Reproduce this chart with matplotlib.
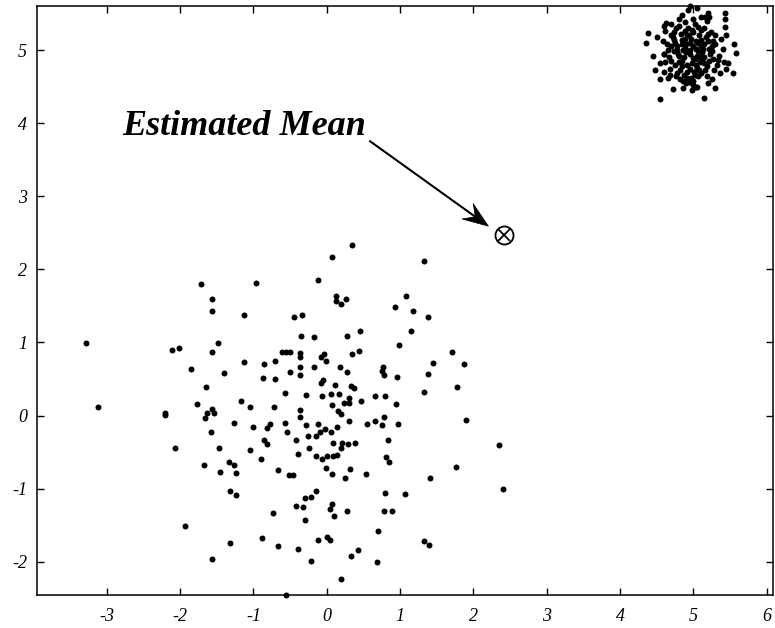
import numpy as np
import matplotlib
matplotlib.use("Agg")
from matplotlib import pyplot as plt
from matplotlib.patches import Polygon

plt.rcParams['axes.unicode_minus'] = False

# amostras do grupo 1 (perto da origem)
x1 = [-1.71, -1.57, -1.57, -3.29, -2.11, -2.02, -1.49, -1.57,
      0.34, 0.07, -0.12, -0.97, 0.12, 0.12, 0.20, 0.26, -1.13, -0.44, -0.34, -0.35, -0.17, 0.27, 0.46,
      1.33, 1.08, 0.93, 1.17, 1.38, 1.15, 0.99, 1.71,
      -1.85, -1.40, -1.65, -3.12, -1.77, -2.20, -2.21, -1.56, -1.54, -1.64, -1.66, -1.58, -2.07, -1.47, -1.67, -1.46,
      -0.61, -0.56, -0.50, -0.36, -0.36, -0.04, -0.08, -0.01, 0.34, 0.44,
      -1.13, -0.86, -0.70, -0.50, -0.37, -0.37, -0.18, 0.18, 0.27, -0.87,
      -0.71, -0.05, -0.08, 0.11, 0.33, 0.37, -0.57, -0.28, -0.06, 0.06,
      0.17, -1.17, 0.31, 0.47, -1.05, -0.72, 0.07, 0.23, 0.30, -0.36,
      0.16, 0.19, -0.37, -1.27, -0.78, -0.82, -1.00, -0.57, -0.28, -0.12,
      0.31, 0.55, -0.54, -0.02, -0.09, -0.15, 0.06, 0.14, -0.86, -0.81,
      -0.42, -0.26, 0.08, 0.21, 0.19, 0.29, 0.39, -1.05, -0.24, -0.39,
      -0.14, -0.07, 0.00, 0.09, 0.14, -0.90, -1.33, -1.27, -0.01, 0.32,
      -0.67, -1.24, -0.51, -0.46, 0.07, 0.54, 0.25,
      1.45, 1.87, 0.77, 0.76, 0.78, 0.96, 1.38, 1.77, 1.32, 0.66, 0.80, 0.94,
      0.78, 0.66, 0.76, 0.97, 1.90, 0.83, 2.35, 0.81, 0.85, 1.76, 1.41,
      -1.93, -1.56,
      -1.32, -1.24, -0.15, -0.22, -0.30, -0.42, -0.33, 0.07, 0.05, 0.10, 0.27, -0.73, -0.30,
      -1.32, -0.89, -0.66, -0.39, -0.12, 0.01, 0.05, -0.21, 0.33, 0.42, 0.19, -0.56,
      0.80, 1.07, 2.40, 0.78, 0.89, 0.70, 1.32, 1.39, 0.68]
y1 = [1.80, 1.59, 1.43, 0.99, 0.90, 0.93, 0.99, 0.87,
      2.33, 2.17, 1.86, 1.81, 1.63, 1.57, 1.52, 1.60, 1.38, 1.35, 1.37, 1.09, 1.08, 1.09, 1.15,
      2.12, 1.63, 1.48, 1.43, 1.35, 1.15, 0.97, 0.87,
      0.64, 0.58, 0.39, 0.12, 0.16, 0.03, 0.01, 0.09, 0.04, 0.03, -0.03, -0.22, -0.44, -0.45, -0.68, -0.77,
      0.87, 0.87, 0.87, 0.85, 0.80, 0.84, 0.80, 0.75, 0.84, 0.88,
      0.73, 0.71, 0.74, 0.60, 0.66, 0.55, 0.67, 0.66, 0.60, 0.51,
      0.50, 0.49, 0.45, 0.42, 0.40, 0.38, 0.31, 0.28, 0.27, 0.29,
      0.29, 0.20, 0.24, 0.20, 0.12, 0.11, 0.15, 0.17, 0.17, 0.07,
      0.06, 0.02, -0.02, -0.10, -0.11, -0.17, -0.16, -0.10, -0.13, -0.12,
      -0.08, -0.11, -0.23, -0.19, -0.23, -0.28, -0.22, -0.16, -0.33, -0.39,
      -0.34, -0.28, -0.38, -0.38, -0.45, -0.39, -0.37, -0.47, -0.45, -0.52,
      -0.56, -0.59, -0.55, -0.56, -0.54, -0.60, -0.64, -0.68, -0.72, -0.73,
      -0.75, -0.79, -0.81, -0.81, -0.80, -0.80, -0.86,
      0.72, 0.71, 0.67, 0.61, 0.55, 0.53, 0.57, 0.39, 0.32, 0.27, 0.27, 0.16,
      -0.02, -0.08, -0.13, -0.12, -0.06, -0.33, -0.41, -0.57, -0.63, -0.71, -0.86,
      -1.51, -1.96,
      -1.03, -1.09, -1.03, -1.12, -1.13, -1.24, -1.25, -1.21, -1.28, -1.38, -1.30, -1.34, -1.43,
      -1.75, -1.68, -1.78, -1.83, -1.70, -1.66, -1.70, -1.99, -1.92, -1.84, -2.23, -2.46,
      -1.06, -1.08, -1.01, -1.31, -1.30, -1.58, -1.71, -1.77, -2.01]

# amostras do grupo 2 (perto de (5, 5))
x2 = [4.95, 5.02, 4.88, 5.10, 4.80, 4.97, 5.05, 4.85, 5.15, 4.75, 5.00, 4.92, 5.20, 4.70, 5.08, 4.83, 5.18, 4.78, 5.25, 4.65,
      4.90, 5.04, 4.98, 4.87, 5.12, 4.93, 5.22, 4.72, 5.06, 4.82, 5.30, 4.60, 5.14, 4.88, 5.28, 4.68, 5.00, 4.76, 5.35, 4.58,
      4.96, 5.09, 4.84, 5.17, 4.73, 4.99, 5.24, 4.62, 5.11, 4.90, 5.32, 4.66, 5.02, 4.80, 5.19, 4.70, 5.38, 4.55, 5.26, 4.86,
      5.07, 4.91, 5.01, 4.78, 5.13, 4.94, 5.23, 4.81, 5.05, 4.89, 5.16, 4.74, 4.97, 5.29, 4.64, 5.10, 4.85, 5.36, 4.60, 5.04,
      4.55, 5.14, 4.38, 4.36, 5.43, 5.43, 5.43, 5.55, 5.58, 5.42, 5.48, 5.45, 5.54, 4.55, 5.30, 5.05, 4.98, 4.63, 4.60, 4.95,
      5.05, 5.20, 5.16, 4.45, 4.48, 4.50, 5.45, 5.40, 4.72, 5.20, 4.68, 4.77, 4.62, 4.60, 5.22, 5.27, 4.93, 5.00, 4.86, 5.34,
      4.90, 5.00, 4.85, 5.07, 4.95, 5.12, 4.78, 5.03, 4.88, 5.15, 4.82, 5.08, 4.70, 4.98, 5.22, 4.75, 5.18, 4.92, 5.10, 4.80,
      4.67, 5.27, 5.04, 4.86, 4.96, 5.14, 4.73, 5.02, 4.84, 5.20, 4.91, 5.09, 4.79, 4.99, 5.11, 4.87, 5.25, 4.69, 5.06, 4.94]
y2 = [4.95, 4.88, 5.03, 5.05, 4.92, 5.15, 4.75, 4.78, 4.90, 5.10, 5.25, 4.70, 5.12, 4.85, 5.20, 5.22, 4.78, 4.68, 4.98, 5.00,
      5.08, 5.02, 4.82, 4.90, 4.97, 5.30, 4.85, 5.18, 4.64, 4.60, 5.08, 4.95, 5.30, 5.38, 4.72, 4.74, 4.58, 5.30, 4.92, 5.12,
      5.00, 4.84, 5.14, 5.18, 4.98, 5.42, 5.25, 5.26, 4.68, 4.55, 4.80, 4.62, 5.35, 5.42, 5.40, 5.36, 5.15, 4.82, 4.60, 4.48,
      5.10, 4.80, 4.70, 5.05, 5.02, 5.20, 4.94, 4.84, 4.92, 5.26, 4.72, 5.24, 4.62, 5.20, 5.08, 5.45, 5.48, 4.68, 4.70, 4.50,
      4.33, 4.35, 5.23, 5.09, 5.51, 5.42, 5.32, 5.08, 4.96, 4.84, 4.82, 4.74, 4.68, 4.61, 4.48, 4.49, 4.46, 5.37, 5.33, 5.60,
      5.58, 5.50, 5.45, 4.92, 4.72, 5.18, 5.20, 5.02, 4.47, 4.55, 4.66, 4.64, 4.84, 4.95, 5.45, 5.12, 5.55, 4.52, 4.57, 4.86,
      4.97, 5.05, 4.85, 4.98, 5.10, 4.88, 5.00, 4.80, 5.15, 5.08, 4.72, 4.72, 5.05, 5.28, 5.02, 4.80, 4.65, 4.62, 5.28, 5.33,
      4.90, 4.88, 5.13, 5.00, 4.74, 4.82, 5.14, 4.66, 5.08, 5.22, 5.21, 4.91, 4.94, 4.89, 5.14, 4.66, 5.06, 5.20, 5.31, 4.56]

# media estimada e ponto de partida da seta do texto
mean_xy = (2.42, 2.47)
label_xy = (-1.12, 3.84)
arrow_from = (0.58, 3.76)
arrow_to = (2.205, 2.59)

xticks = [-3, -2, -1, 0, 1, 2, 3, 4, 5, 6]
yticks = [-2, -1, 0, 1, 2, 3, 4, 5]

fig = plt.figure(figsize=(7.75, 6.28), dpi=100)
ax = fig.add_axes([0.0474, 0.0525, 0.9503, 0.9379])

ax.plot(x1, y1, 'o', color='black', markersize=4.3, markeredgewidth=0, clip_on=False)
ax.plot(x2, y2, 'o', color='black', markersize=4.3, markeredgewidth=0, clip_on=False)

# marcador da media: circulo com x
ax.plot(*mean_xy, 'o', markersize=13, markerfacecolor='none', markeredgecolor='black', markeredgewidth=1.3)
ax.plot(*mean_xy, 'x', markersize=9, color='black', markeredgewidth=1.3)

ax.text(label_xy[0], label_xy[1], 'Estimated Mean', ha='center', va='baseline',
        fontsize=26, family='Liberation Serif', style='italic', weight='bold')

# seta: linha e ponta com barbas para tras
p0 = np.array(arrow_from)
p1 = np.array(arrow_to)
u = (p1 - p0) / np.linalg.norm(p1 - p0)
n = np.array([-u[1], u[0]])
L, W, N = 0.35, 0.13, 0.22
base = p1 - N * u
ax.plot([p0[0], base[0]], [p0[1], base[1]], color='black', lw=1.5, solid_capstyle='butt')
head = [p1, p1 - L * u + W * n, base, p1 - L * u - W * n]
ax.add_patch(Polygon(head, closed=True, facecolor='black', edgecolor='black', lw=0.5))

ax.set_xlim(-3.956, 6.09)
ax.set_ylim(-2.456, 5.602)
ax.set_xticks(xticks)
ax.set_yticks(yticks)
ax.set_xticklabels([str(t) for t in xticks], family='Liberation Serif', style='italic', fontsize=13)
ax.set_yticklabels([str(t) for t in yticks], family='Liberation Serif', style='italic', fontsize=13)
ax.tick_params(direction='in', top=True, right=True, length=5, width=1)
ax.tick_params(axis='x', pad=9)
ax.tick_params(axis='y', pad=7)
for s in ax.spines.values():
    s.set_linewidth(1.1)

fig.savefig('out.png', dpi=100)
